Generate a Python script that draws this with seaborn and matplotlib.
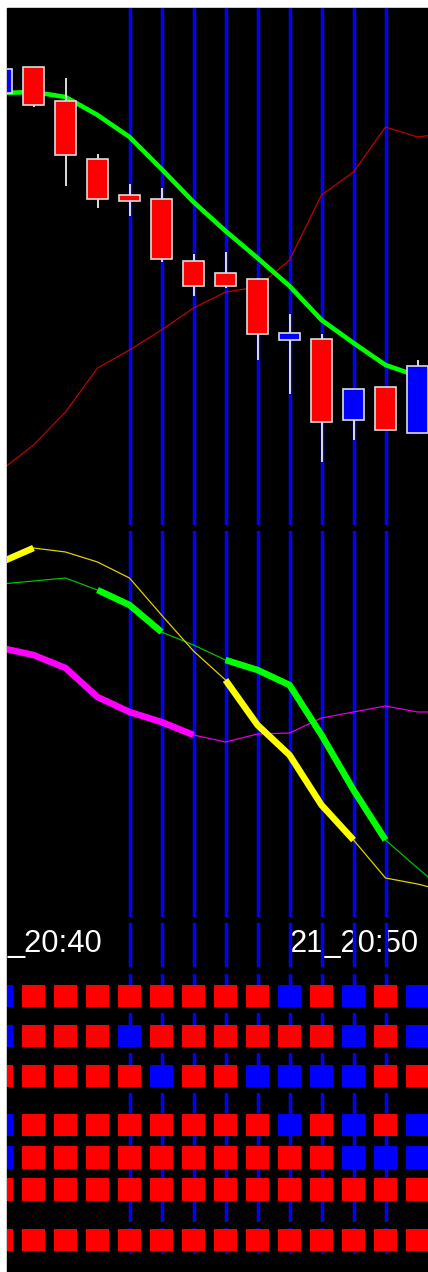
import numpy as np
import pandas as pd
import matplotlib
matplotlib.use("Agg")
import matplotlib.pyplot as plt
from matplotlib.patches import Rectangle
import seaborn as sns

# ---------------- data ----------------
# candle bars (index 0..13), prices in chart points
CANDLE_BARS = list(range(14))
OPEN  = [432, 458, 424, 366, 330, 326, 264, 252, 246, 185, 186, 105, 138,  92]
HIGH  = [456, 458, 447, 371, 341, 337, 271, 273, 247, 211, 191, 136, 138, 165]
LOW   = [432, 418, 339, 317, 309, 263, 229, 237, 165, 131,  63,  85,  95,  92]
CLOSE = [456, 420, 370, 326, 324, 266, 239, 239, 191, 192, 103, 136,  95, 159]

MA_GREEN = [432, 433, 428, 410, 388, 356, 323, 294, 267, 239, 205, 182, 160, 149]
LINE_BARS = list(range(15))
RED_LINE = [55, 80, 113, 157, 175, 195, 217, 233, 238, 265, 330, 353, 398, 388, 392]

# indicator window
IND_YELLOW  = [355, 369, 365, 355, 339, 302, 266, 237, 192, 162, 112, 77, 39, 33, 25]
IND_GREEN   = [333, 336, 339, 327, 312, 285, 272, 257, 247, 232, 182, 127, 77, 49, 22]
IND_MAGENTA = [269, 262, 249, 220, 205, 195, 182, 175, 183, 184, 199, 205, 211, 205, 205]
YELLOW_BOLD  = [(0, 1), (7, 11)]
GREEN_BOLD   = [(3, 5), (7, 12)]
MAGENTA_BOLD = [(0, 6)]

# marked bars (blue vertical lines)
MARKED_BARS = [4, 5, 6, 7, 8, 9, 10, 11, 12]

# time labels (the first one is only partly visible at the left edge)
TIME_LABELS = ["_20:40", "21_20:50"]
TIME_LABEL_BARS = [XMIN_LABEL := 0.19, 9]

# signal rows: 1 = up (blue), -1 = down (red)
ROW1 = [1, -1, -1, -1, -1, -1, -1, -1, -1, 1, -1, 1, -1, 1]
ROW2 = [1, -1, -1, -1, 1, -1, -1, -1, -1, -1, -1, 1, -1, 1]
ROW3 = [-1, -1, -1, -1, -1, 1, -1, -1, 1, 1, 1, 1, -1, -1]
ROW4 = [1, -1, -1, -1, -1, -1, -1, -1, -1, 1, -1, 1, -1, 1]
ROW5 = [1, -1, -1, -1, -1, -1, -1, -1, -1, -1, -1, 1, 1, 1]
ROW6 = [-1] * 14
ROW7 = [-1] * 14

# ---------------- style ----------------
sns.set_theme(style="dark")
plt.rcParams["font.family"] = ["Liberation Sans", "DejaVu Sans"]
plt.rcParams["axes.facecolor"] = "black"

W, H = 428, 1272
fig = plt.figure(figsize=(W / 100, H / 100), dpi=100, facecolor="white")
fig.add_artist(Rectangle((7 / W, 0), (W - 7) / W, (H - 8) / H,
                         transform=fig.transFigure, color="black", zorder=-10))

XMIN, XMAX = (7 - 1.5) / 32, (428 - 1.5) / 32


def add_ax(top, bottom):
    ax = fig.add_axes([7 / W, (H - bottom) / H, (W - 7) / W, (bottom - top) / H])
    ax.set_facecolor("black")
    ax.set_xlim(XMIN, XMAX)
    ax.set_xticks([])
    ax.set_yticks([])
    for s in ax.spines.values():
        s.set_visible(False)
    ax.grid(False)
    ax.set_xlabel("")
    ax.set_ylabel("")
    return ax


def vlines(ax):
    for b in MARKED_BARS:
        ax.axvline(b, color="#0000ff", lw=2.5, zorder=1)


def draw_line(ax, values, bold, thin_color, bold_color):
    sns.lineplot(x=LINE_BARS, y=values, ax=ax, color=thin_color, linewidth=0.9,
                 estimator=None, sort=False, zorder=3)
    for a, b in bold:
        sns.lineplot(x=LINE_BARS[a:b + 1], y=values[a:b + 1], ax=ax,
                     color=bold_color, linewidth=4.7, estimator=None, sort=False,
                     zorder=4, solid_capstyle="butt")


# ---- main window ----
ax_main = add_ax(8, 525)
ax_main.set_ylim(0, 517)
vlines(ax_main)
sns.lineplot(x=LINE_BARS, y=RED_LINE, ax=ax_main, color="#c00000", linewidth=0.9,
             estimator=None, sort=False, zorder=2)
sns.lineplot(x=CANDLE_BARS, y=MA_GREEN, ax=ax_main, color="#00ff00", linewidth=3.3,
             estimator=None, sort=False, zorder=2)
o, c = np.array(OPEN), np.array(CLOSE)
fill = ["#0000ff" if cc >= oo else "#ff0000" for oo, cc in zip(OPEN, CLOSE)]
ax_main.vlines(CANDLE_BARS, LOW, HIGH, color="#dcdcdc", lw=1.4, zorder=3)
ax_main.bar(CANDLE_BARS, np.maximum(np.abs(c - o), 1), bottom=np.minimum(o, c),
            width=0.66, color=fill, edgecolor="#dcdcdc", linewidth=1.2, zorder=4)

# ---- indicator window ----
ax_ind = add_ax(531, 917)
ax_ind.set_ylim(0, 386)
vlines(ax_ind)
draw_line(ax_ind, IND_MAGENTA, MAGENTA_BOLD, "#e000e0", "#ff00ff")
draw_line(ax_ind, IND_GREEN, GREEN_BOLD, "#00c000", "#00ff00")
draw_line(ax_ind, IND_YELLOW, YELLOW_BOLD, "#e0d000", "#ffff00")

# ---- time label window ----
ax_time = add_ax(923, 967)
ax_time.set_ylim(967, 923)
vlines(ax_time)
for lab, b in zip(TIME_LABELS, TIME_LABEL_BARS):
    ax_time.text(b, 952.5, lab, color="white", fontsize=22.3, ha="left",
                 va="baseline", zorder=0.5,
                 family=["Liberation Sans", "DejaVu Sans"])

# ---- signal windows ----
palette = {1: "#0000ff", -1: "#ff0000"}
windows = [
    (974, 1007, [(ROW1, 996.5)]),
    (1013, 1047, [(ROW2, 1036.5)]),
    (1053, 1087, [(ROW3, 1076.5)]),
    (1093, 1222, [(ROW4, 1125), (ROW5, 1157.5), (ROW6, 1189.5)]),
    (1228, 1254, [(ROW7, 1240)]),
]
for top, bottom, rows in windows:
    ax = add_ax(top, bottom)
    ax.set_ylim(bottom, top)
    vlines(ax)
    for sig, yc in rows:
        df = pd.DataFrame({"bar": CANDLE_BARS, "y": [yc] * len(sig), "sig": sig})
        sns.scatterplot(data=df, x="bar", y="y", hue="sig", palette=palette,
                        marker="s", s=274, linewidth=0, legend=False, ax=ax,
                        zorder=3)
    ax.set_xlabel("")
    ax.set_ylabel("")

fig.savefig("out.png", dpi=100, facecolor="white")
